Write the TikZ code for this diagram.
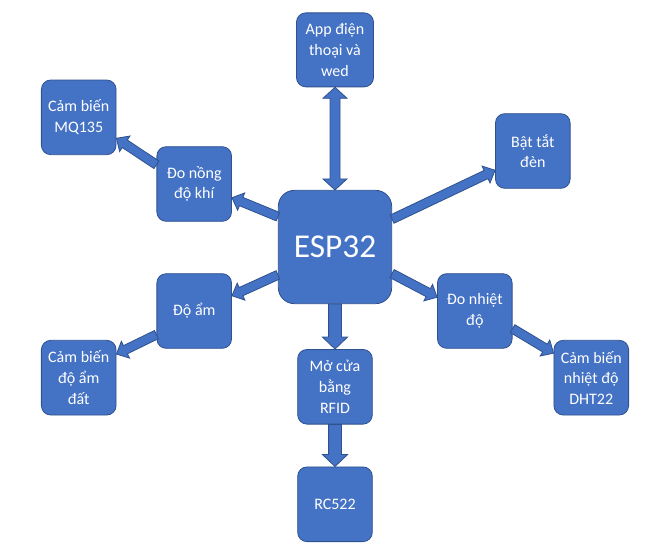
\documentclass[tikz,border=0pt]{standalone}
\usepackage{fontspec}
\setmainfont{Carlito}
\usetikzlibrary{
  calc,
  positioning,
}
\definecolor{boxblue}{HTML}{4472C4}
\definecolor{edgeblue}{HTML}{2F528F}
\tikzset{
  box/.style={rectangle,draw=edgeblue,line width=0.6pt,fill=boxblue,text=white,
    rounded corners=7pt,minimum width=56pt,minimum height=56pt,inner sep=1pt,
    align=center,font=\fontsize{12}{15.5}\selectfont},
  bigbox/.style={box,minimum width=85pt,minimum height=85pt,rounded corners=12pt,
    font=\fontsize{25}{30}\selectfont},
  arrowbody/.style={draw=edgeblue,line width=0.6pt,fill=boxblue,line join=miter},
}
% block arrow: #1 half shaft, #2 half head, #3 head length, #4 from, #5 to
\newcommand{\blockarrow}[5]{%
  \path (#4) coordinate (ba-s) (#5) coordinate (ba-e);
  \path ($(ba-e)!#3!(ba-s)$) coordinate (ba-c);
  \draw[arrowbody] ($(ba-s)!#1!90:(ba-e)$) -- ($(ba-c)!#1!90:(ba-e)$)
    -- ($(ba-c)!#2!90:(ba-e)$) -- (ba-e) -- ($(ba-c)!#2!-90:(ba-e)$)
    -- ($(ba-c)!#1!-90:(ba-e)$) -- ($(ba-s)!#1!-90:(ba-e)$) -- cycle;
}
% double block arrow, heads at both ends
\newcommand{\doubleblockarrow}[5]{%
  \path (#4) coordinate (ba-s) (#5) coordinate (ba-e);
  \path ($(ba-e)!#3!(ba-s)$) coordinate (ba-c) ($(ba-s)!#3!(ba-e)$) coordinate (ba-d);
  \draw[arrowbody] (ba-s) -- ($(ba-d)!#2!90:(ba-e)$) -- ($(ba-d)!#1!90:(ba-e)$)
    -- ($(ba-c)!#1!90:(ba-e)$) -- ($(ba-c)!#2!90:(ba-e)$) -- (ba-e)
    -- ($(ba-c)!#2!-90:(ba-e)$) -- ($(ba-c)!#1!-90:(ba-e)$)
    -- ($(ba-d)!#1!-90:(ba-e)$) -- ($(ba-d)!#2!-90:(ba-e)$) -- cycle;
}
\begin{document}
\begin{tikzpicture}[node distance=0mm and 0mm]

  \useasboundingbox (-251.25pt,185.25pt) rectangle (240pt,-233.25pt);

  \node[bigbox] (esp) at (0,0) {ESP32};

  \node[box,minimum width=57.75pt,minimum height=55.5pt,yshift=77pt] (app) [above=of esp] {App điện\\thoại và\\wed};
  \node[box,xshift=-34.5pt,yshift=47.25pt] (khi) [left=of esp] {Đo nồng\\độ khí};
  \node[box,xshift=-30pt,yshift=50pt] (mq) [left=of khi] {Cảm biến\\MQ135};
  \node[box,xshift=77.25pt,yshift=72pt] (den) [right=of esp] {Bật tắt\\đèn};
  \node[box,xshift=-34.5pt,yshift=-48pt] (doam) [left=of esp] {Độ ẩm};
  \node[box,xshift=-30pt,yshift=-50pt] (cbdat) [left=of doam] {Cảm biến\\độ ẩm\\đất};
  \node[box,xshift=33.75pt,yshift=-48pt] (nhiet) [right=of esp] {Đo nhiệt\\độ};
  \node[box,xshift=30.75pt,yshift=-50pt] (dht) [right=of nhiet] {Cảm biến\\nhiệt độ\\DHT22};
  \node[box,yshift=-33.75pt] (mo) [below=of esp] {Mở cửa\\bằng\\RFID};
  \node[box,yshift=-31.5pt] (rc) [below=of mo] {RC522};

  \doubleblockarrow{3.75pt}{9pt}{8.25pt}{app.south}{esp.north}
  \blockarrow{3.4pt}{7pt}{7.5pt}{esp.152}{khi.340}
  \blockarrow{3.4pt}{7pt}{7.5pt}{khi.153}{mq.331}
  \blockarrow{3.4pt}{7pt}{7.5pt}{esp.26}{den.207}
  \blockarrow{3.4pt}{7pt}{7.5pt}{esp.206}{doam.22}
  \blockarrow{3.4pt}{7pt}{7.5pt}{doam.212}{cbdat.32}
  \blockarrow{3.4pt}{7pt}{7.5pt}{esp.335}{nhiet.160}
  \blockarrow{3.4pt}{7pt}{7.5pt}{nhiet.335}{dht.147}
  \blockarrow{4.8pt}{9.4pt}{9pt}{esp.south}{mo.north}
  \blockarrow{4.8pt}{9.4pt}{9pt}{mo.south}{rc.north}

\end{tikzpicture}
\end{document}
